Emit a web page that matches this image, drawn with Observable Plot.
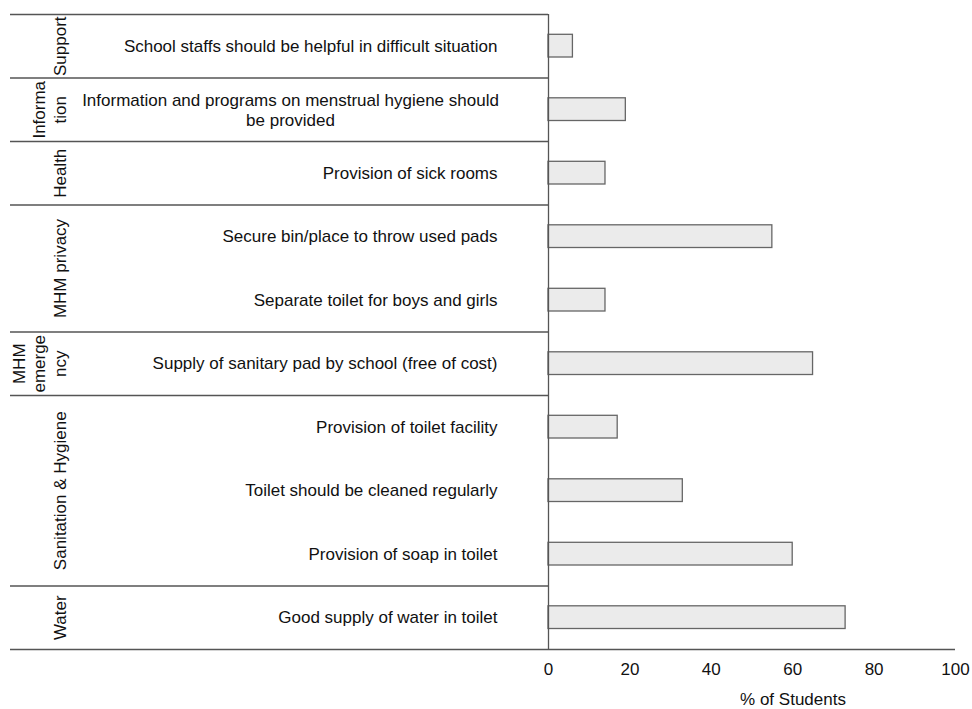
<!DOCTYPE html>
<html>
<head>
<meta charset="utf-8">
<script src="https://cdn.jsdelivr.net/npm/d3@7"></script>
<script src="https://cdn.jsdelivr.net/npm/@observablehq/plot@0.6"></script>
<style>
  html, body { margin: 0; padding: 0; background: #ffffff; }
  #chart svg { display: block; }
</style>
</head>
<body>
<div id="chart"></div>
<script>
// ---- data ----
const items = [
  "School staffs should be helpful in difficult situation",
  "Information and programs on menstrual hygiene should\nbe provided",
  "Provision of sick rooms",
  "Secure bin/place to throw used pads",
  "Separate toilet for boys and girls",
  "Supply of sanitary pad by school (free of cost)",
  "Provision of toilet facility",
  "Toilet should be cleaned regularly",
  "Provision of soap in toilet",
  "Good supply of water in toilet"
];
const values = [6, 19, 14, 55, 14, 65, 17, 33, 60, 73];
const groupNames = ["Support", "Informa\ntion", "Health", "MHM privacy", "MHM\nemerge\nncy", "Sanitation & Hygiene", "Water"];
const groupSizes = [1, 1, 1, 2, 1, 3, 1];
const xTicks = [0, 20, 40, 60, 80, 100];
const xLabel = "% of Students";

// ---- derived tables ----
const rows = items.map((label, i) => ({label, value: values[i], row: i}));
let acc = 0;
const groups = groupNames.map((name, i) => {
  const start = acc; acc += groupSizes[i];
  return {name, start, end: acc};
});
const boundaries = [0, ...groups.map(g => g.end)];
const innerBoundaries = boundaries.slice(0, -1);
const lastBoundary = boundaries.slice(-1);

const FONT = 17;
const LINE = "#555555";
const TEXT = "#111111";

const chart = Plot.plot({
  width: 972,
  height: 709,
  marginTop: 14,
  marginBottom: 60,
  marginLeft: 548,
  marginRight: 17,
  style: {fontFamily: "'Liberation Sans', Arial, sans-serif", fontSize: FONT + "px", background: "#ffffff", color: TEXT},
  x: {domain: [0, 100]},
  y: {domain: [0, boundaries[boundaries.length - 1]], reverse: true, axis: null},
  marks: [
    Plot.rectX(rows, {x: "value", y1: "row", y2: d => d.row + 1, insetTop: 20.3, insetBottom: 20.5,
      fill: "#ebebeb", stroke: "#666666", strokeWidth: 1.3}),
    Plot.ruleY(innerBoundaries, {insetLeft: -538, insetRight: 407, stroke: LINE, strokeWidth: 1.3}),
    Plot.ruleY(lastBoundary, {insetLeft: -538, stroke: LINE, strokeWidth: 1.3}),
    Plot.ruleX([0], {stroke: LINE, strokeWidth: 1.3}),
    Plot.text(rows.filter(d => !d.label.includes("\n")), {
      y: d => d.row + 0.5, text: "label", frameAnchor: "left", dx: -51,
      textAnchor: "end", fontSize: FONT, fill: TEXT
    }),
    Plot.text(rows.filter(d => d.label.includes("\n")), {
      y: d => d.row + 0.5, text: "label", frameAnchor: "left", dx: -258,
      textAnchor: "middle", lineHeight: 1.18, fontSize: FONT, fill: TEXT
    }),
    Plot.text(groups, {
      y: d => (d.start + d.end) / 2, text: "name", frameAnchor: "left", dx: -483,
      rotate: -90, textAnchor: "middle", lineAnchor: "bottom", lineHeight: 1.18,
      fontSize: FONT, fill: TEXT
    }),
    Plot.axisX({ticks: xTicks, tickSize: 0, tickPadding: 13, fontSize: FONT, label: null, fill: TEXT}),
    Plot.text([xLabel], {frameAnchor: "bottom", dx: 41, dy: 55, lineAnchor: "bottom", fontSize: FONT, fill: TEXT})
  ]
});
document.getElementById("chart").appendChild(chart);
</script>
</body>
</html>
